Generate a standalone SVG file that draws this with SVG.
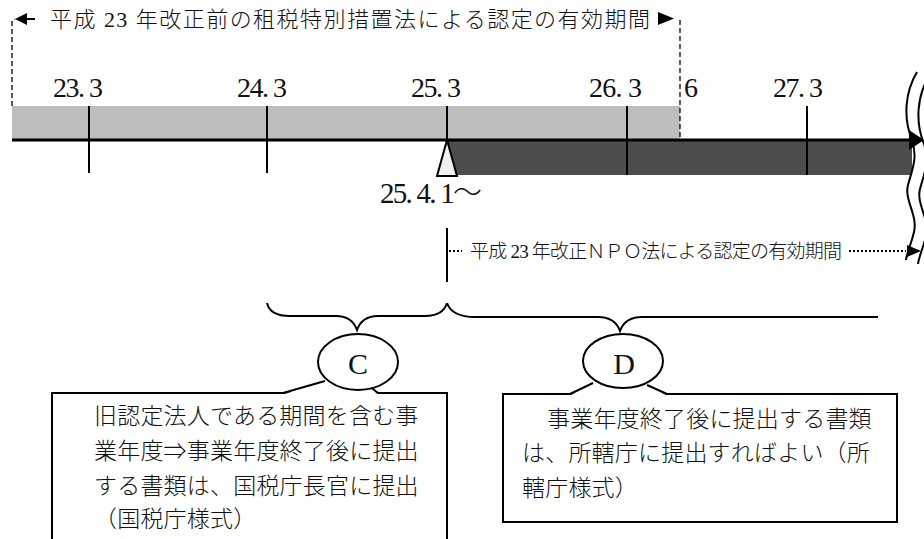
<svg xmlns="http://www.w3.org/2000/svg" width="924" height="539" viewBox="0 0 924 539">
<style>
.jp{font-family:"Noto Sans CJK JP","Noto Sans CJK SC",sans-serif;font-weight:300;fill:#111}
.num{font-family:"Liberation Serif",serif;fill:#111}
.box{fill:#fff;stroke:#000;stroke-width:2}
.ln{fill:none;stroke:#000;stroke-width:2}
.dash{fill:none;stroke:#000;stroke-width:1.3;stroke-dasharray:5 3}
.dot{fill:none;stroke:#000;stroke-width:2;stroke-dasharray:2 2}
</style>
<rect width="924" height="539" fill="#fff"/>

<g id="bars">
  <rect x="12" y="106" width="668" height="34" fill="#bdbdbd"/>
  <rect x="447" y="140" width="465" height="35" fill="#4d4d4d"/>
</g>

<g id="ticks" class="ln">
  <line x1="89" y1="106" x2="89" y2="173"/>
  <line x1="267" y1="106" x2="267" y2="173"/>
  <line x1="447" y1="106" x2="447" y2="140"/>
  <line x1="627" y1="106" x2="627" y2="175"/>
  <line x1="807" y1="106" x2="807" y2="175"/>
</g>

<g id="connectors">
  <line x1="12" y1="140" x2="912" y2="140" stroke="#000" stroke-width="3"/>
  <polygon points="909,130 924,140 909,150" fill="#000"/>
  <path class="dash" d="M12,106 L12,21 L15,19"/>
  <line class="dash" x1="680" y1="20" x2="680" y2="140"/>
  <polygon points="15,19 27,13 27,25" fill="#000"/>
  <line x1="26" y1="19" x2="35" y2="19" stroke="#000" stroke-width="2"/>
  <polygon points="658,12 674,18.5 658,25" fill="#000"/>
  <line x1="447" y1="228" x2="447" y2="282" stroke="#000" stroke-width="2"/>
  <line class="dot" x1="449" y1="251" x2="462" y2="251"/>
  <line class="dot" x1="849" y1="251" x2="906" y2="251"/>
  <polygon points="907,245 921,251 907,257" fill="#000"/>
  <path class="ln" d="M267,303 Q270,316 290,316 L336,316 Q352,316 357,330 Q362,316 378,316 L425,316 Q443,316 447,303"/>
  <path class="ln" d="M447,303 Q452,317 475,317 L598,317 Q615,317 620,331 Q625,317 642,317 L878,317"/>
  <path fill="none" stroke="#000" stroke-width="2" d="M917,72 C905,92 903,118 912,140 C918,158 912,170 908,185 C904,200 918,215 914,232 C911,245 907,252 906,260"/>
  <path fill="none" stroke="#000" stroke-width="2" d="M929,76 C917,96 915,122 924,144 C930,162 924,174 920,189 C916,204 930,219 926,236 C923,249 919,256 918,264"/>
</g>

<g id="marker-start">
  <polygon points="447,140 437,176 457,176" fill="#f0f0f0" stroke="#000" stroke-width="2" stroke-linejoin="miter"/>
</g>

<g id="labels">
  <text class="jp" x="50" y="27" font-size="22" textLength="600" lengthAdjust="spacing">平成<tspan class="num"> 23 </tspan>年改正前の租税特別措置法による認定の有効期間</text>
  <text class="num" x="53" y="97" font-size="28" textLength="50">23. 3</text>
  <text class="num" x="237" y="97" font-size="28" textLength="50">24. 3</text>
  <text class="num" x="411" y="97" font-size="28" textLength="50">25. 3</text>
  <text class="num" x="589" y="97" font-size="28" textLength="53">26. 3</text>
  <text class="num" x="684" y="97" font-size="28">6</text>
  <text class="num" x="773" y="97" font-size="28" textLength="50">27. 3</text>
  <text class="num" x="380" y="203" font-size="29" textLength="102">25. 4. 1<tspan class="jp">～</tspan></text>
  <text class="jp" x="470" y="258" font-size="19" textLength="372" lengthAdjust="spacing">平成<tspan class="num"> 23 </tspan>年改正ＮＰＯ法による認定の有効期間</text>
</g>

<g id="node-c">
  <rect class="box" x="52" y="393" width="395" height="160"/>
  <polygon points="283,394.5 325,381 368,385 378,394.5" fill="#fff" stroke="none"/>
  <polyline class="ln" points="283,393 325,381"/>
  <polyline class="ln" points="368,385 378,393"/>
  <ellipse class="box" cx="358" cy="362" rx="40" ry="28"/>
  <text class="num" x="358" y="374" font-size="30" text-anchor="middle">C</text>
  <text class="jp" font-size="23" letter-spacing="0.2">
    <tspan x="94" y="424">旧認定法人である期間を含む事</tspan>
    <tspan x="94" y="459">業年度⇒事業年度終了後に提出</tspan>
    <tspan x="94" y="494">する書類は、国税庁長官に提出</tspan>
    <tspan x="94" y="527">（国税庁様式）</tspan>
  </text>
</g>

<g id="node-d">
  <rect class="box" x="503" y="394" width="394" height="128"/>
  <polygon points="570,395.5 593,383 647,385 667,395.5" fill="#fff" stroke="none"/>
  <polyline class="ln" points="570,394 593,383"/>
  <polyline class="ln" points="647,385 667,394"/>
  <ellipse class="box" cx="623" cy="361" rx="40" ry="27"/>
  <text class="num" x="624" y="374" font-size="30" text-anchor="middle">D</text>
  <text class="jp" font-size="23" letter-spacing="0.2">
    <tspan x="547" y="427">事業年度終了後に提出する書類</tspan>
    <tspan x="522" y="461">は、所轄庁に提出すればよい（所</tspan>
    <tspan x="522" y="496">轄庁様式）</tspan>
  </text>
</g>
</svg>
